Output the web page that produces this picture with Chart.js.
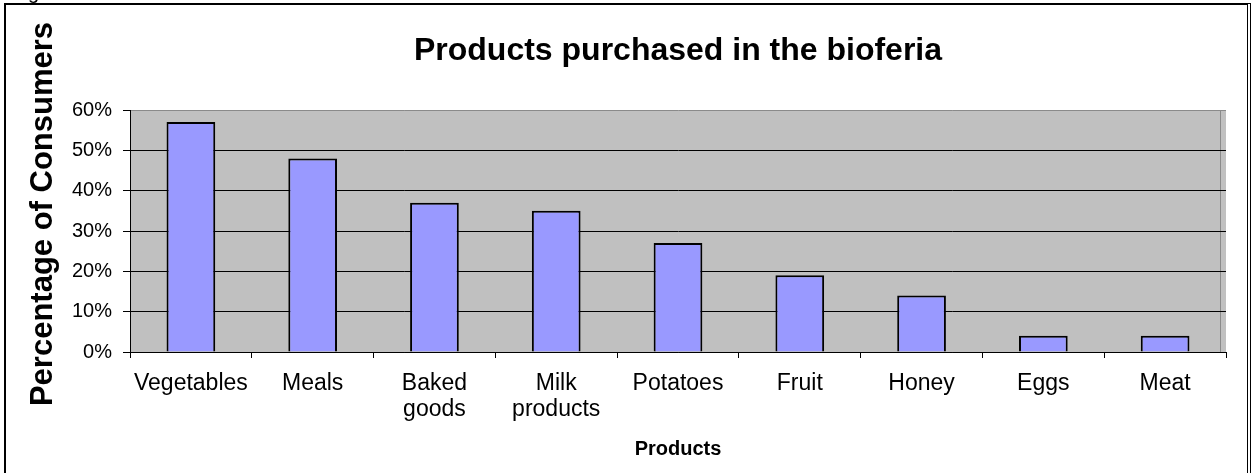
<!DOCTYPE html>
<html>
<head>
<meta charset="utf-8">
<title>Products purchased in the bioferia</title>
<script src="https://cdn.jsdelivr.net/npm/chart.js@4.4.1/dist/chart.umd.min.js"></script>
<style>
    html, body { margin: 0; padding: 0; background: #fff; }
    #wrap { position: relative; width: 1254px; height: 473px; overflow: hidden; }
    #frame {
        position: absolute; left: 4px; top: 3px; width: 1241px; height: 500px;
        border-left: 2px solid #000; border-top: 2px solid #000; border-right: 4px double #000;
        pointer-events: none;
    }
    #above {
        position: absolute; left: 28px; top: -18px;
        font: 20px 'Liberation Sans', Arial, sans-serif; line-height: 1;
    }
</style>
</head>
<body>
<div id="wrap">
    <canvas id="bioferia-chart" width="1254" height="473"></canvas>
    <div id="frame"></div>
    <div id="above">g</div>
</div>
<script>
const products = ['Vegetables', 'Meals', ['Baked', 'goods'], ['Milk', 'products'], 'Potatoes', 'Fruit', 'Honey', 'Eggs', 'Meat'];
const consumerShare = [57, 48, 37, 35, 27, 19, 14, 4, 4];
const percentTicks = [0, 10, 20, 30, 40, 50, 60];
const yTitle = 'Percentage of Consumers';

const fontFamily = "'Liberation Sans', Arial, sans-serif";
Chart.defaults.font.family = fontFamily;
Chart.defaults.color = '#000';

// gray plot background with the thin edge line on the right
const plotBackground = {
    id: 'plotBackground',
    beforeDraw(chart) {
        const { ctx, chartArea: a } = chart;
        ctx.save();
        ctx.fillStyle = '#c0c0c0';
        ctx.fillRect(a.left, a.top, a.right - a.left, a.bottom - a.top);
        ctx.strokeStyle = '#8a8a8a';
        ctx.lineWidth = 1;
        ctx.beginPath();
        ctx.moveTo(a.right - 5.5, a.top);
        ctx.lineTo(a.right - 5.5, a.bottom);
        ctx.stroke();
        ctx.restore();
    }
};

// vertical axis title, sits a bit higher than the plot's middle
const sideTitle = {
    id: 'sideTitle',
    afterDraw(chart) {
        const { ctx } = chart;
        ctx.save();
        ctx.translate(43, 214);
        ctx.rotate(-Math.PI / 2);
        ctx.font = 'bold 31px ' + fontFamily;
        ctx.fillStyle = '#000';
        ctx.textAlign = 'center';
        ctx.textBaseline = 'middle';
        ctx.fillText(yTitle, 0, 0);
        ctx.restore();
    }
};

const ctx = document.getElementById('bioferia-chart').getContext('2d');

new Chart(ctx, {
    type: 'bar',
    data: {
        labels: products,
        datasets: [{
            label: yTitle,
            data: consumerShare,
            backgroundColor: '#9999ff',
            borderColor: '#000',
            borderWidth: 2,
            barPercentage: 0.4,
            categoryPercentage: 1.0
        }]
    },
    options: {
        responsive: false,
        animation: false,
        layout: {
            padding: { left: 0, right: 28, top: 0, bottom: 0 }
        },
        scales: {
            x: {
                afterFit: (scale) => { scale.height = 121; },
                grid: {
                    drawOnChartArea: false,
                    drawTicks: true,
                    tickLength: 6,
                    color: '#000'
                },
                border: { color: '#000', width: 1 },
                ticks: {
                    font: { size: 23, lineHeight: 1.13 },
                    padding: 13,
                    maxRotation: 0,
                    autoSkip: false
                },
                title: {
                    display: true,
                    text: 'Products',
                    font: { size: 20, weight: 'bold' },
                    padding: { top: 0, bottom: 12 }
                }
            },
            y: {
                min: 0,
                max: 60,
                afterFit: (scale) => { scale.width = 130; },
                afterBuildTicks: (scale) => {
                    scale.ticks = percentTicks.map(v => ({ value: v }));
                },
                grid: {
                    color: (c) => (c.tick && c.tick.value === 60 ? '#8a8a8a' : '#000'),
                    tickColor: '#000',
                    tickLength: 7,
                    lineWidth: 1
                },
                border: { color: '#000', width: 1 },
                ticks: {
                    font: { size: 20 },
                    padding: 11,
                    callback: (v) => v + '%'
                }
            }
        },
        plugins: {
            legend: { display: false },
            tooltip: { enabled: false },
            title: {
                display: true,
                text: 'Products purchased in the bioferia',
                fullSize: false,
                font: { size: 32, weight: 'bold' },
                padding: { top: 32, bottom: 39.6 }
            }
        }
    },
    plugins: [plotBackground, sideTitle]
});
</script>
</body>
</html>
